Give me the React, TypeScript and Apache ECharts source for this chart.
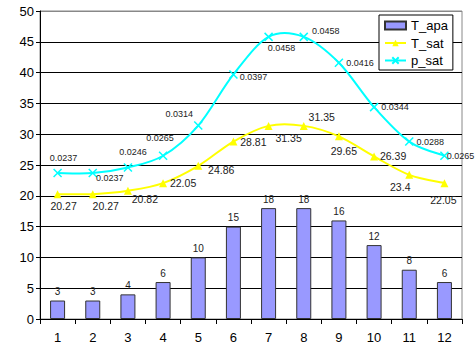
import React, { useEffect, useRef } from "react";
import * as echarts from "echarts";

// Monthly values
const months = ["1", "2", "3", "4", "5", "6", "7", "8", "9", "10", "11", "12"];
const tApa = [3, 3, 4, 6, 10, 15, 18, 18, 16, 12, 8, 6];
const tSat = [20.27, 20.27, 20.82, 22.05, 24.86, 28.81, 31.35, 31.35, 29.65, 26.39, 23.4, 22.05];
const pSat = [0.0237, 0.0237, 0.0246, 0.0265, 0.0314, 0.0397, 0.0458, 0.0458, 0.0416, 0.0344, 0.0288, 0.0265];

// p_sat is drawn on the same axis, scaled by 1000
const P_SCALE = 1000;
const pSatScaled = pSat.map((v) => +(v * P_SCALE).toFixed(3));

// Hand-placed label offsets (dx, dy from the point centre)
const tSatLabelOffsets = [
  [6, 12], [13, 12], [17, 8], [20, 0], [23, 4], [20, 0],
  [20, 12], [18, -9], [5, 15], [19, 0], [-9, 12], [-1, 17],
];
const pSatLabelOffsets = [
  [6, -15], [17, 5], [5, -15], [-3, -18], [-19, -12], [20, 3],
  [13, 11], [22, -6], [21, 0], [21, 0], [21, 0], [16, 0],
];

const FONT = "Liberation Sans, Arial, sans-serif";

// Cardinal (Catmull-Rom) spline through pixel points, as an SVG path string
function splinePath(pts: number[][]): string {
  let d = `M${pts[0][0]},${pts[0][1]}`;
  for (let i = 0; i < pts.length - 1; i++) {
    const p0 = pts[i - 1] || pts[i];
    const p1 = pts[i];
    const p2 = pts[i + 1];
    const p3 = pts[i + 2] || p2;
    const c1x = p1[0] + (p2[0] - p0[0]) / 6;
    const c1y = p1[1] + (p2[1] - p0[1]) / 6;
    const c2x = p2[0] - (p3[0] - p1[0]) / 6;
    const c2y = p2[1] - (p3[1] - p1[1]) / 6;
    d += `C${c1x},${c1y},${c2x},${c2y},${p2[0]},${p2[1]}`;
  }
  return d;
}

function curveSeries(values: number[], color: string, z: number) {
  return {
    type: "custom",
    silent: true,
    z,
    data: [[0, values[0]]],
    renderItem: (_params: any, api: any) => {
      const pts = values.map((v, i) => api.coord([i, v]));
      return {
        type: "path",
        shape: { pathData: splinePath(pts) },
        style: { fill: "none", stroke: color, lineWidth: 2 },
      };
    },
  };
}

export default function App() {
  const ref = useRef<HTMLDivElement>(null);

  useEffect(() => {
    if (!ref.current) return;
    const chart = echarts.init(ref.current, null, { renderer: "svg" });

    const gridColors = Array.from({ length: 11 }, (_, i) => (i === 10 ? "#888888" : "#000000"));

    chart.setOption({
      animation: false,
      textStyle: { fontFamily: FONT },
      grid: {
        left: 40,
        right: 13,
        top: 11,
        bottom: 30,
        show: true,
        borderColor: "#888888",
        borderWidth: 1,
        backgroundColor: "transparent",
      },
      legend: {
        orient: "vertical",
        left: 379,
        top: 15,
        padding: [4, 5, 3, 5],
        itemGap: 4.5,
        itemWidth: 21,
        itemHeight: 8,
        backgroundColor: "#ffffff",
        borderColor: "#000000",
        borderWidth: 1,
        textStyle: { fontFamily: FONT, fontSize: 13, color: "#000" },
        data: [
          { name: "T_apa", icon: "rect" },
          { name: "T_sat", lineStyle: { width: 2, opacity: 1, color: "#FFFF00" } },
          { name: "p_sat", lineStyle: { width: 2, opacity: 1, color: "#00FFFF" } },
        ],
      },
      xAxis: {
        type: "category",
        data: months,
        boundaryGap: true,
        axisLine: { lineStyle: { color: "#000", width: 1 } },
        axisTick: { show: true, length: 5, lineStyle: { color: "#000" } },
        axisLabel: { fontFamily: FONT, fontSize: 13, color: "#000", margin: 12 },
        splitLine: { show: false },
      },
      yAxis: {
        type: "value",
        min: 0,
        max: 50,
        interval: 5,
        axisLine: { show: true, lineStyle: { color: "#000", width: 1 } },
        axisTick: { show: true, length: 4, lineStyle: { color: "#000" } },
        axisLabel: { fontFamily: FONT, fontSize: 13, color: "#000", margin: 6 },
        splitLine: { show: true, lineStyle: { color: gridColors, width: 1 } },
      },
      series: [
        {
          name: "T_apa",
          type: "bar",
          barWidth: 15,
          data: tApa,
          itemStyle: { color: "#9999FF", borderColor: "#333333", borderWidth: 1 },
          label: {
            show: true,
            position: "top",
            distance: 4,
            fontFamily: FONT,
            fontSize: 10,
            color: "#222",
          },
          z: 2,
        },
        curveSeries(tSat, "#FFFF00", 3),
        curveSeries(pSatScaled, "#00FFFF", 4),
        {
          name: "T_sat",
          type: "line",
          symbol: "triangle",
          symbolSize: 8,
          lineStyle: { color: "#FFFF00", width: 2, opacity: 0 },
          itemStyle: { color: "#FFFF00" },
          data: tSat.map((v, i) => ({
            value: v,
            label: { offset: tSatLabelOffsets[i] },
          })),
          label: {
            show: true,
            position: "inside",
            fontFamily: FONT,
            fontSize: 10.5,
            color: "#222",
          },
          z: 5,
        },
        {
          name: "p_sat",
          type: "line",
          symbol: "path://M0,0L10,10M10,0L0,10",
          symbolSize: 8,
          lineStyle: { color: "#00FFFF", width: 2, opacity: 0 },
          itemStyle: { color: "#00FFFF", borderColor: "#00FFFF", borderWidth: 1.5 },
          data: pSatScaled.map((v, i) => ({
            value: v,
            label: { offset: pSatLabelOffsets[i] },
          })),
          label: {
            show: true,
            position: "inside",
            fontFamily: FONT,
            fontSize: 9,
            color: "#222",
            formatter: (p: any) => String(pSat[p.dataIndex]),
          },
          z: 6,
        },
      ],
    });

    return () => chart.dispose();
  }, []);

  return (
    <div
      ref={ref}
      style={{ position: "absolute", left: 0, top: 0, width: 475, height: 349, background: "#fff" }}
    />
  );
}
